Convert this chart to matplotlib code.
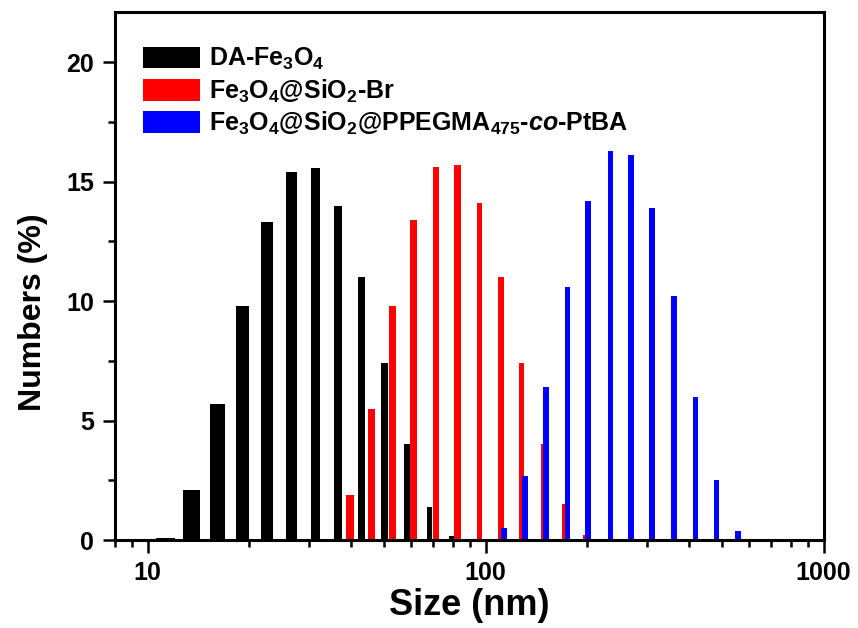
import numpy as np
import matplotlib
matplotlib.use('Agg')
import matplotlib.pyplot as plt
from matplotlib.ticker import LogLocator, MultipleLocator, NullFormatter

plt.rcParams['font.family'] = ['Liberation Sans', 'DejaVu Sans']
plt.rcParams['font.weight'] = 'bold'
plt.rcParams['mathtext.fontset'] = 'custom'
plt.rcParams['mathtext.rm'] = 'Liberation Sans:bold'
plt.rcParams['mathtext.bf'] = 'Liberation Sans:bold'
plt.rcParams['mathtext.it'] = 'Liberation Sans:italic:bold'

# size (nm) and number distribution (%)
size_da = [11.3, 13.5, 16.1, 19.1, 22.6, 26.6, 31.3, 36.6, 42.9, 50.2, 58.5, 68.3, 79.4]
num_da = [0.1, 2.1, 5.7, 9.8, 13.3, 15.4, 15.55, 14.0, 11.0, 7.4, 4.0, 1.4, 0.17]

size_br = [39.6, 45.9, 53.1, 61.3, 71.3, 82.5, 95.9, 110.8, 127.5, 148.1, 171.0, 196.9]
num_br = [1.9, 5.5, 9.8, 13.4, 15.6, 15.7, 14.1, 11.0, 7.4, 4.0, 1.5, 0.2]

size_pol = [113.4, 130.8, 150.8, 174.6, 201.0, 233.7, 269.4, 310.9, 361.0, 417.7, 481.4, 558.3]
num_pol = [0.5, 2.7, 6.4, 10.6, 14.2, 16.3, 16.1, 13.9, 10.2, 6.0, 2.5, 0.4]

labels = [r'DA-Fe$_{3}$O$_{4}$',
          r'Fe$_{3}$O$_{4}$@SiO$_{2}$-Br',
          r'Fe$_{3}$O$_{4}$@SiO$_{2}$@PPEGMA$_{475}$-$\mathit{co}$-PtBA']

fig = plt.figure(figsize=(8.58, 6.28), dpi=100)
ax = fig.add_axes([0.134, 0.140, 0.826, 0.841])
ax.set_xscale('log')

px_per_decade = 338.0


def log_bars(x, y, px_width, color, label):
    x = np.asarray(x)
    d = np.asarray(px_width) / px_per_decade
    left = x * 10 ** (-d / 2)
    right = x * 10 ** (d / 2)
    ax.bar(left, y, width=right - left, align='edge', color=color,
           linewidth=0, label=label)


log_bars(size_da, num_da, 19.5 * (np.asarray(size_da) / 11.3) ** -0.72, 'black', labels[0])
log_bars(size_br, num_br, 8 * (np.asarray(size_br) / 39.6) ** -0.35, '#ff0000', labels[1])
log_bars(size_pol, num_pol, np.full(len(size_pol), 5.5), '#0000ff', labels[2])

ax.set_xlim(8, 1000)
ax.set_ylim(0, 22.1)
ax.set_xticks([10, 100, 1000])
ax.set_xticklabels(['10', '100', '1000'])
ax.xaxis.set_minor_locator(LogLocator(base=10, subs=np.arange(2, 10)))
ax.xaxis.set_minor_formatter(NullFormatter())
ax.yaxis.set_major_locator(MultipleLocator(5))
ax.yaxis.set_minor_locator(MultipleLocator(2.5))

for s in ax.spines.values():
    s.set_linewidth(2.2)
ax.tick_params(which='major', length=9, width=1.8, labelsize=18, pad=6)
ax.tick_params(which='minor', length=5, width=1.8)

ax.set_xlabel('Size (nm)', fontsize=26, fontweight='bold', labelpad=2)
ax.set_ylabel('Numbers (%)', fontsize=23, fontweight='bold')
ax.yaxis.set_label_coords(-0.095, 0.432)

ax.legend(loc='upper left', bbox_to_anchor=(0.039, 0.935), frameon=False,
          fontsize=18, handlelength=2.3, handleheight=0.95,
          handletextpad=0.35, labelspacing=0.2, borderpad=0, borderaxespad=0)

fig.savefig('out.png', dpi=100)
